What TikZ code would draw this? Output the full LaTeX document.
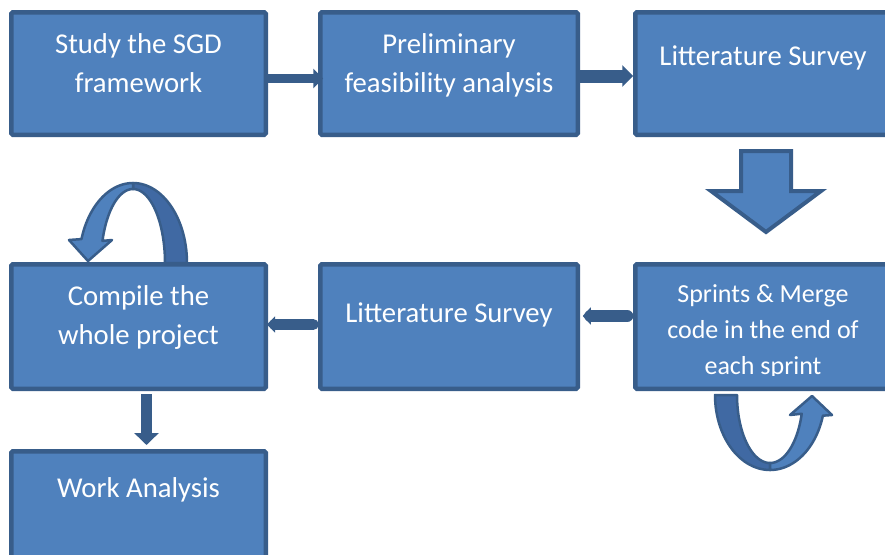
\documentclass[tikz,border=0pt]{standalone}
\usepackage{fontspec}
\setmainfont{Carlito}
\usetikzlibrary{arrows.meta,calc}
\definecolor{boxfill}{HTML}{4F81BD}
\definecolor{bord}{HTML}{385D8A}
\definecolor{backfill}{HTML}{4069A3}
\pgfdeclarelayer{paper}
\pgfdeclarelayer{background}
\pgfsetlayers{paper,background,main}
\begin{document}
\begin{tikzpicture}[x=1pt,y=-1pt,
  box/.style={draw=bord,fill=boxfill,line width=4.5pt,inner sep=0pt,outer sep=0pt,rounded corners=1.5pt},
  lbl/.style={text=white,font=\fontsize{28.7}{39}\selectfont,align=center,anchor=base,inner sep=0pt},
  slbl/.style={lbl,font=\fontsize{26}{36}\selectfont},
  conn/.style={draw=bord,line width=#1},
  loopback/.style={fill=backfill,draw=bord,line width=2.5pt,line join=round},
  loopfront/.style={fill=boxfill,draw=bord,line width=2.5pt,line join=round},
  blockarrow/.style={fill=boxfill,draw=bord,line width=4pt,line join=miter}
]
\clip (0,0) rectangle (885,554);
\begin{pgfonlayer}{paper}
\fill[white] (0,0) rectangle (885,554);
\end{pgfonlayer}

% boxes
\node[box,minimum width=254.5pt,minimum height=122.5pt] (b1) at (138.5,73.5) {};
\node[box,minimum width=257.5pt,minimum height=122.5pt] (b2) at (449,73.5) {};
\node[box,minimum width=255.5pt,minimum height=122.5pt] (b3) at (763,73.5) {};
\node[box,minimum width=254.5pt,minimum height=124.5pt] (b4) at (138.5,326.5) {};
\node[box,minimum width=257.5pt,minimum height=124.5pt] (b5) at (449,326.5) {};
\node[box,minimum width=255.5pt,minimum height=124.5pt] (b6) at (763,326.5) {};
\node[box,minimum width=254.5pt,minimum height=122.5pt] (b7) at (138.5,512.5) {};

% texts (base anchor = baseline of the last line)
\node[lbl] (t1) at (138.5,92) {Study the SGD\\framework};
\node[lbl] (t2) at (449,92) {Preliminary\\feasibility analysis};
\node[lbl] (t3) at (763,65) {Litterature Survey};
\node[lbl] (t4) at (138.5,344) {Compile the\\whole project};
\node[lbl] (t5) at (449,322) {Litterature Survey};
\begin{scope}
  \clip (b6.north west) rectangle ($(b6.south east)+(0,-13)$);
  \node[slbl] (t6) at (763,374) {Sprints \& Merge\\code in the end of\\each sprint};
\end{scope}
\node[lbl] (t7) at (138.5,497) {Work Analysis};

% straight connectors
\draw[conn=9pt,-{Triangle[length=10pt,width=19pt]}]
  ([yshift=-5pt]b1.east) -- ([xshift=3pt,yshift=-5pt]b2.west);
\draw[conn=13pt,-{Triangle[length=11pt,width=21pt]}]
  ([yshift=-2.5pt]b2.east) -- ([xshift=-2pt,yshift=-2.5pt]b3.west);
\draw[conn=12pt,line cap=round,-{Triangle[length=8pt,width=17pt]}]
  ([xshift=-8pt,yshift=10.5pt]b6.west) -- ([xshift=5pt,yshift=10.5pt]b5.east);
\draw[conn=11pt,line cap=round,-{Triangle[length=8pt,width=16pt]}]
  ([xshift=-7pt,yshift=2pt]b5.west) -- ([xshift=1.25pt,yshift=2pt]b4.east);
\draw[conn=11pt,-{Triangle[length=12pt,width=24pt]}]
  ([xshift=8pt,yshift=-5.25pt]b4.south) -- ([xshift=8pt,yshift=6.25pt]b7.north);

% block arrow from b3 down to b6
\path[blockarrow] (741,151) -- (791,151) -- (791,191) -- (821,191) -- (766,232)
  -- (711,191) -- (741,191) -- cycle;

\begin{pgfonlayer}{background}
% loop above b4
\path[loopback]
  plot[domain=0:90,samples=30] ({133+54*cos(\x)},{263-80*sin(\x)})
  -- plot[domain=90:0,samples=30] ({133+32*cos(\x)},{263-74*sin(\x)}) -- cycle;
\path[loopfront]
  plot[domain=90:162.6,samples=30] ({133+54*cos(\x)},{263-80*sin(\x)})
  -- (69,240) -- (88,261) -- (112,240)
  -- plot[domain=162.6:90,samples=30] ({133+32*cos(\x)},{263-74*sin(\x)}) -- cycle;
% loop below b6
\path[loopback]
  plot[domain=180:270,samples=30] ({770+55*cos(\x)},{395-75*sin(\x)})
  -- plot[domain=270:180,samples=30] ({770+33*cos(\x)},{395-68*sin(\x)}) -- cycle;
\path[loopfront]
  plot[domain=270:344,samples=30] ({770+55*cos(\x)},{395-75*sin(\x)})
  -- (832,415) -- (812,396) -- (790,415)
  -- plot[domain=344:270,samples=30] ({770+33*cos(\x)},{395-68*sin(\x)}) -- cycle;
\end{pgfonlayer}
\end{tikzpicture}
\end{document}
